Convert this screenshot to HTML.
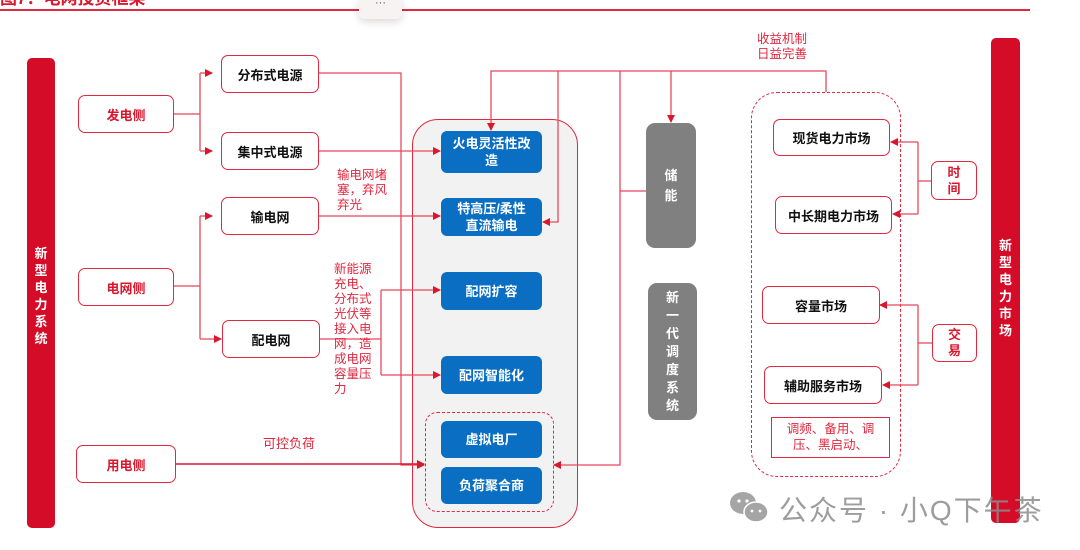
<!DOCTYPE html>
<html><head><meta charset="utf-8"><style>
body{margin:0;width:1080px;height:550px;background:#fff;position:relative;overflow:hidden;font-family:"Liberation Sans","Noto Sans CJK SC",sans-serif}
.a{position:absolute;box-sizing:border-box}
.rb{border:1.5px solid #e0283f;border-radius:7px;background:#fff;display:flex;align-items:center;justify-content:center;font-weight:bold;font-size:13px;color:#111}
.rt{color:#d9182e}
.bl{background:#0a6fc2;border-radius:6px;color:#fff;font-weight:bold;font-size:13px;display:flex;align-items:center;justify-content:center;text-align:center;line-height:17px}
.gy{background:#808080;border-radius:9px;color:#fff;font-weight:bold;font-size:13px;display:flex;align-items:center;justify-content:center;text-align:center;line-height:20px}
.bar{background:#d50c28;border-radius:5px;color:#fff;font-weight:bold;font-size:13px;text-align:center;line-height:17px}
.lbl{color:#e0283f;font-size:12.5px;line-height:15px}
</style></head><body>
<div class="a" style="left:0;top:-16px;color:#d9182e;font-weight:bold;font-size:17px">图7：电网投资框架</div>
<div class="a" style="left:0;top:9px;width:1030px;height:2px;background:#e0283f"></div>
<div class="a" style="left:359px;top:-4px;width:43px;height:23px;background:#f7f3f3;border-radius:6px;box-shadow:0 3px 8px rgba(0,0,0,.15);text-align:center;font-size:11px;color:#555;line-height:14px">···</div>

<div class="a bar" style="left:27px;top:58px;width:28px;height:470px;padding-top:187px">新<br>型<br>电<br>力<br>系<br>统</div>
<div class="a bar" style="left:991px;top:38px;width:29px;height:485px;padding-top:199px">新<br>型<br>电<br>力<br>市<br>场</div>

<div class="a" style="left:412px;top:119px;width:166px;height:409px;background:#f2f2f2;border:1.5px solid #e0283f;border-radius:26px"></div>
<div class="a" style="left:425px;top:412px;width:129px;height:100px;border:1.5px dashed #e0283f;border-radius:12px"></div>
<div class="a" style="left:751px;top:92px;width:150px;height:385px;border:1.5px dashed #e0283f;border-radius:26px"></div>

<svg class="a" style="left:0;top:0" width="1080" height="550" fill="none" stroke="#e8485c" stroke-width="1.3">
<defs><marker id="m" markerWidth="8" markerHeight="8" refX="7" refY="4" orient="auto" markerUnits="userSpaceOnUse"><path d="M0,0L8,4L0,8z" fill="#d9182e" stroke="none"/></marker></defs>
<path d="M173,114H200M200,73V151"/>
<path d="M200,73H212" marker-end="url(#m)"/><path d="M200,151H212" marker-end="url(#m)"/>
<path d="M173,286H200M200,216V339"/>
<path d="M200,216H212" marker-end="url(#m)"/><path d="M200,339H221" marker-end="url(#m)"/>
<path d="M310,73H401V465H424" marker-end="url(#m)"/>
<path d="M310,151H440" marker-end="url(#m)"/>
<path d="M310,216H440" marker-end="url(#m)"/>
<path d="M320,339H381M381,290V375"/>
<path d="M381,290H440" marker-end="url(#m)"/><path d="M381,375H440" marker-end="url(#m)"/>
<path d="M175,464H424" marker-end="url(#m)" stroke="#d9182e" stroke-width="1.6"/>
<path d="M826,92V71H491V130" marker-end="url(#m)"/>
<path d="M558,71V222H543" marker-end="url(#m)"/>
<path d="M671,71V122" marker-end="url(#m)"/>
<path d="M620,71V465H554" marker-end="url(#m)"/>
<path d="M620,191H646"/>
<path d="M932,181H918M918,142V214"/>
<path d="M918,142H891" marker-end="url(#m)"/><path d="M918,214H893" marker-end="url(#m)"/>
<path d="M932,343H918M918,305V385"/>
<path d="M918,305H880" marker-end="url(#m)"/><path d="M918,385H883" marker-end="url(#m)"/>
</svg>

<div class="a rb rt" style="left:78px;top:95px;width:96px;height:38px">发电侧</div>
<div class="a rb" style="left:221px;top:55px;width:98px;height:38px">分布式电源</div>
<div class="a rb" style="left:221px;top:132px;width:98px;height:38px">集中式电源</div>
<div class="a rb" style="left:221px;top:197px;width:98px;height:38px">输电网</div>
<div class="a rb rt" style="left:78px;top:268px;width:96px;height:38px">电网侧</div>
<div class="a rb" style="left:222px;top:320px;width:98px;height:38px">配电网</div>
<div class="a rb rt" style="left:76px;top:445px;width:100px;height:38px">用电侧</div>

<div class="a bl" style="left:441px;top:131px;width:101px;height:42px">火电灵活性改<br>造</div>
<div class="a bl" style="left:441px;top:198px;width:101px;height:38px">特高压/柔性<br>直流输电</div>
<div class="a bl" style="left:441px;top:272px;width:101px;height:38px">配网扩容</div>
<div class="a bl" style="left:441px;top:356px;width:101px;height:38px">配网智能化</div>
<div class="a bl" style="left:441px;top:421px;width:101px;height:37px">虚拟电厂</div>
<div class="a bl" style="left:441px;top:467px;width:101px;height:37px">负荷聚合商</div>

<div class="a gy" style="left:646px;top:123px;width:50px;height:125px">储<br>能</div>
<div class="a gy" style="left:648px;top:283px;width:49px;height:137px;line-height:18px">新<br>一<br>代<br>调<br>度<br>系<br>统</div>

<div class="a rb" style="left:773px;top:119px;width:117px;height:37px">现货电力市场</div>
<div class="a rb" style="left:775px;top:196px;width:117px;height:38px">中长期电力市场</div>
<div class="a rb" style="left:762px;top:286px;width:118px;height:38px">容量市场</div>
<div class="a rb" style="left:764px;top:366px;width:118px;height:38px">辅助服务市场</div>
<div class="a" style="left:771px;top:417px;width:119px;height:41px;border:1.5px solid #e0283f;color:#e0283f;font-size:12.5px;line-height:16px;text-align:center;padding-top:3px">调频、备用、调<br>压、黑启动、</div>
<div class="a rb rt" style="left:931px;top:161px;width:46px;height:39px;line-height:16px;text-align:center">时<br>间</div>
<div class="a rb rt" style="left:932px;top:324px;width:45px;height:38px;line-height:16px;text-align:center">交<br>易</div>

<div class="a lbl" style="left:757px;top:32px;text-align:center">收益机制<br>日益完善</div>
<div class="a lbl" style="left:337px;top:168px">输电网堵<br>塞，弃风<br>弃光</div>
<div class="a lbl" style="left:334px;top:262px">新能源<br>充电、<br>分布式<br>光伏等<br>接入电<br>网，造<br>成电网<br>容量压<br>力</div>
<div class="a lbl" style="left:263px;top:436px;font-size:13px">可控负荷</div>

<svg class="a" style="left:729px;top:490px" width="44" height="36"><ellipse cx="14" cy="13" rx="13" ry="11" fill="#a5a5a5"/><ellipse cx="27" cy="22" rx="12" ry="10" fill="#a5a5a5" stroke="#fff" stroke-width="1.5"/><circle cx="10" cy="11" r="1.6" fill="#fff"/><circle cx="18" cy="11" r="1.6" fill="#fff"/><circle cx="23" cy="21" r="1.4" fill="#fff"/><circle cx="31" cy="21" r="1.4" fill="#fff"/></svg>
<div class="a" style="left:779px;top:489px;font-size:28px;color:rgba(140,140,140,.85);white-space:nowrap;letter-spacing:2px">公众号 · 小Q下午茶</div>
</body></html>
